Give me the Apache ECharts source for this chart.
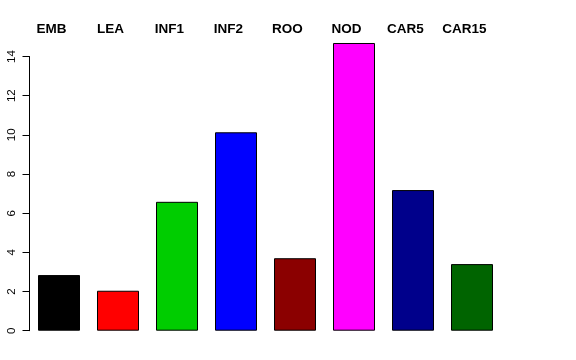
<!DOCTYPE html>
<html>
<head>
<meta charset="utf-8">
<script src="https://cdn.jsdelivr.net/npm/echarts@6/dist/echarts.min.js"></script>
<style>html,body{margin:0;padding:0;background:#fff;}#c{width:576px;height:360px;}</style>
</head>
<body>
<div id="c"></div>
<script>
var categories = ["EMB", "LEA", "INF1", "INF2", "ROO", "NOD", "CAR5", "CAR15"];
var values = [2.84, 2.04, 6.58, 10.13, 3.70, 14.69, 7.18, 3.40];
var colors = ["#000000", "#FF0000", "#00CD00", "#0000FF", "#8B0000", "#FF00FF", "#00008B", "#006400"];
var yTicks = [0, 2, 4, 6, 8, 10, 12, 14];

var chart = echarts.init(document.getElementById('c'), null, {renderer: 'canvas'});
chart.setOption({
  animation: false,
  backgroundColor: '#ffffff',
  grid: {left: 29.5, right: 74.5, top: 56.5, bottom: 29.3, containLabel: false},
  xAxis: {
    type: 'category',
    data: categories,
    position: 'top',
    axisLine: {show: false},
    axisTick: {show: false},
    axisLabel: {
      show: true, margin: 20, color: '#000',
      fontFamily: 'Liberation Sans, Arial, sans-serif', fontWeight: 'bold', fontSize: 13.5,
      padding: [0, 15, 0, 0]
    }
  },
  yAxis: {
    type: 'value',
    min: yTicks[0], max: yTicks[yTicks.length - 1], interval: 2,
    splitLine: {show: false},
    axisLine: {show: true, lineStyle: {color: '#000', width: 1}},
    axisTick: {show: true, length: 7, lineStyle: {color: '#000', width: 1}},
    axisLabel: {
      rotate: 90, margin: 12, color: '#000',
      fontFamily: 'Liberation Sans, Arial, sans-serif', fontSize: 11.5
    }
  },
  series: [{
    type: 'bar',
    clip: false,
    barWidth: 42,
    data: values.map(function (v, i) {
      return {value: v, itemStyle: {color: colors[i]}};
    }),
    itemStyle: {borderColor: '#000', borderWidth: 1}
  }]
});
</script>
</body>
</html>
